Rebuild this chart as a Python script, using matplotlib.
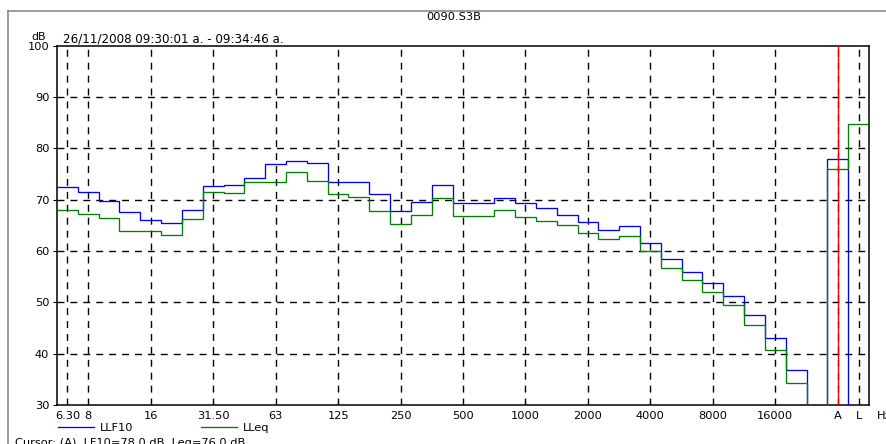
import matplotlib
matplotlib.use('Agg')
import matplotlib.pyplot as plt
import numpy as np
from matplotlib.lines import Line2D

# third-octave bands 6.3 Hz .. 20 kHz, an empty slot, then A and L totals
band_labels = ['6.30', '8', '10', '12.50', '16', '20', '25', '31.50', '40', '50',
               '63', '80', '100', '125', '160', '200', '250', '315', '400', '500',
               '630', '800', '1000', '1250', '1600', '2000', '2500', '3150', '4000',
               '5000', '6300', '8000', '10000', '12500', '16000', '20000', '', 'A', 'L']

llf10 = [72.5, 71.4, 69.8, 67.6, 66.1, 65.4, 67.9, 72.7, 72.9, 74.2,
         77.0, 77.6, 77.2, 73.5, 73.5, 71.1, 67.8, 69.5, 72.9, 69.4,
         69.4, 70.4, 69.3, 68.3, 67.0, 65.6, 64.0, 64.8, 61.6, 58.5,
         55.9, 53.7, 51.3, 47.6, 43.0, 36.8, np.nan, 78.0, np.nan]

lleq = [67.9, 67.2, 66.5, 63.9, 63.9, 63.2, 66.3, 71.4, 71.2, 73.4,
        73.4, 75.4, 73.6, 71.1, 70.6, 67.8, 65.3, 67.0, 70.3, 66.9,
        66.9, 68.0, 66.6, 65.9, 65.0, 63.5, 62.4, 63.0, 60.0, 56.7,
        54.4, 52.0, 49.5, 45.5, 40.8, 34.3, np.nan, 76.0, 84.7]

tick_labels = ['6.30', '8', '16', '31.50', '63', '125', '250', '500', '1000',
               '2000', '4000', '8000', '16000', 'A', 'L']
y_ticks = [30, 40, 50, 60, 70, 80, 90, 100]
cursor_band = 'A'

plt.rcParams['font.family'] = ['DejaVu Sans']
plt.rcParams['font.size'] = 8.2

W, H = 887, 444
fig = plt.figure(figsize=(W / 100, H / 100), dpi=100)
ax = fig.add_axes([57 / W, 1 - 405 / H, (869 - 57) / W, (405 - 45.6) / H])

n = len(band_labels)
edges = np.arange(n + 1) - 0.5
# empty bands drop to the floor of the chart
blue = np.nan_to_num(np.array(llf10, dtype=float), nan=0.0)
green = np.nan_to_num(np.array(lleq, dtype=float), nan=0.0)

dash = (0, (5, 4.3))
tick_idx = [band_labels.index(t) for t in tick_labels]
for xi in tick_idx:
    ax.axvline(xi, color='black', lw=1.0, ls=dash, zorder=1)
for yv in y_ticks[1:-1]:
    ax.axhline(yv, color='black', lw=1.0, ls=dash, zorder=1)

ax.stairs(blue, edges, color='#0000ff', lw=0.95, baseline=None, zorder=3)
ax.stairs(green, edges, color='#008000', lw=0.95, baseline=None, zorder=4)
ax.axvline(band_labels.index(cursor_band), color='#ff0000', lw=0.95, zorder=5)

ax.set_xlim(-0.5, n - 0.5)
ax.set_ylim(30, 100)
ax.set_xticks(tick_idx)
ax.set_xticklabels(tick_labels)
ax.set_yticks(y_ticks)
ax.tick_params(axis='x', length=0, pad=4)
ax.tick_params(axis='y', length=3, width=0.8, direction='out', pad=2.5)
for sp in ax.spines.values():
    sp.set_linewidth(1.1)
    sp.set_color('black')

# legend under the axis
fig.legend(handles=[Line2D([], [], color='#0000ff', lw=0.95),
                    Line2D([], [], color='#008000', lw=0.95)],
           labels=['LLF10', 'LLeq'], ncol=2, frameon=False,
           loc='center left', bbox_to_anchor=(58 / W, 1 - 428 / H),
           borderpad=0, borderaxespad=0, handlelength=3.2, handletextpad=0.5,
           columnspacing=5.9)

fig.text(877 / W, 1 - 416 / H, 'Hz', ha='left', va='center')
fig.text(31 / W, 1 - 40.5 / H, 'dB', ha='left', va='baseline', fontsize=7.8)
fig.text(63 / W, 1 - 43 / H, '26/11/2008 09:30:01 a. - 09:34:46 a.', ha='left',
         va='baseline', fontsize=8.6)
fig.text(454 / W, 1 - 17.5 / H, '0090.S3B', ha='center', va='center')
fig.text(15 / W, 1 - 437.5 / H, 'Cursor: (A)  LF10=78.0 dB  Leq=76.0 dB', ha='left', va='top')

# outer report frame
fig.add_artist(Line2D([8 / W, 1], [1 - 11 / H, 1 - 11 / H], color='#808080', lw=1.1))
fig.add_artist(Line2D([8 / W, 8 / W], [0, 1 - 11 / H], color='#808080', lw=1.1))

fig.savefig('out.png', dpi=100)
